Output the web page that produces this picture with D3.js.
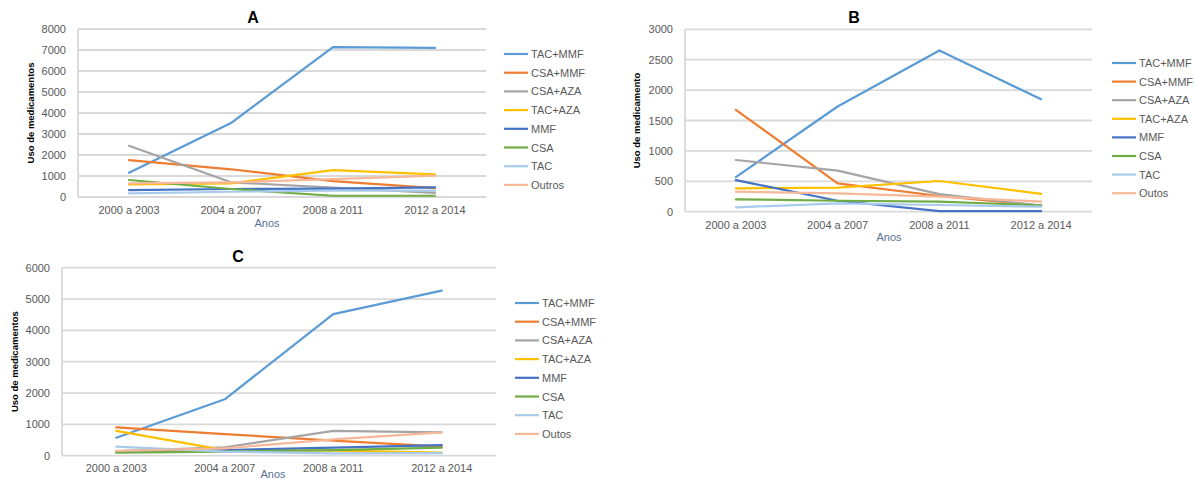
<!DOCTYPE html>
<html>
<head>
<meta charset="utf-8">
<script src="https://cdn.jsdelivr.net/npm/d3@7"></script>
<style>
  html, body { margin: 0; padding: 0; background: #fff; }
  svg { display: block; font-family: "Liberation Sans", Arial, sans-serif; }
</style>
</head>
<body>
<svg id="chart" width="1194" height="479"></svg>
<script>
// Periods on the x axis (shared by the three panels)
const categories = ["2000 a 2003", "2004 a 2007", "2008 a 2011", "2012 a 2014"];

// Series keys and colours, same order in every panel
const seriesKeys = ["TAC+MMF", "CSA+MMF", "CSA+AZA", "TAC+AZA", "MMF", "CSA", "TAC", "Outros"];
const seriesColors = ["#5B9BD5", "#ED7D31", "#A5A5A5", "#FFC000", "#4472C4", "#70AD47", "#A9CBEB", "#F6B899"];

// Legend labels as printed in each panel
const legendA = ["TAC+MMF", "CSA+MMF", "CSA+AZA", "TAC+AZA", "MMF", "CSA", "TAC", "Outros"];
const legendB = ["TAC+MMF", "CSA+MMF", "CSA+AZA", "TAC+AZA", "MMF", "CSA", "TAC", "Outos"];
const legendC = ["TAC+MMF", "CSA+MMF", "CSA+AZA", "TAC+AZA", "MMF", "CSA", "TAC", "Outos"];

// Panel A values, one row per series
const valuesA = [
  [1150, 3520, 7140, 7100],
  [1760, 1320, 760, 420],
  [2440, 700, 450, 200],
  [600, 650, 1280, 1080],
  [330, 380, 400, 460],
  [810, 380, 60, 60],
  [170, 250, 300, 300],
  [650, 700, 850, 1020]
];
// Panel B values
const valuesB = [
  [570, 1730, 2650, 1850],
  [1675, 467, 258, 100],
  [850, 675, 290, 100],
  [385, 395, 505, 293],
  [520, 180, 10, 10],
  [204, 180, 165, 105],
  [72, 138, 110, 82],
  [330, 300, 247, 165]
];
// Panel C values
const valuesC = [
  [575, 1800, 4520, 5270],
  [905, 690, 480, 290],
  [150, 270, 790, 745],
  [790, 180, 160, 95],
  [130, 180, 255, 340],
  [95, 130, 180, 255],
  [290, 130, 75, 80],
  [150, 235, 520, 745]
];

// Y tick labels
const ticksA = [0, 1000, 2000, 3000, 4000, 5000, 6000, 7000, 8000];
const ticksB = [0, 500, 1000, 1500, 2000, 2500, 3000];
const ticksC = [0, 1000, 2000, 3000, 4000, 5000, 6000];

const svg = d3.select("#chart");
const textColor = "#595959";

function drawPanel(p) {
  const g = svg.append("g");
  const x = d3.scaleBand().domain(categories).range([p.left, p.right]);
  const y = d3.scaleLinear().domain([0, d3.max(p.ticks)]).range([p.bottom, p.top]);

  // horizontal gridlines
  g.append("g").selectAll("line").data(p.ticks).join("line")
    .attr("x1", p.left).attr("x2", p.right)
    .attr("y1", d => y(d)).attr("y2", d => y(d))
    .attr("stroke", "#D9D9D9").attr("stroke-width", 1.8);

  // vertical axis line
  g.append("line")
    .attr("x1", p.left).attr("x2", p.left)
    .attr("y1", p.top).attr("y2", p.bottom)
    .attr("stroke", "#D9D9D9").attr("stroke-width", 1.8);

  // y tick labels
  const yAxis = d3.axisLeft(y).tickValues(p.ticks).tickSize(0).tickPadding(0).tickFormat(d3.format("d"));
  const ya = g.append("g").attr("transform", `translate(${p.left - 12},0)`).call(yAxis);
  ya.select(".domain").remove();
  ya.selectAll("text").attr("fill", textColor).attr("font-size", 11)
    .attr("font-family", "Liberation Sans, Arial, sans-serif");

  // x tick labels
  const xAxis = d3.axisBottom(x).tickSize(0).tickPadding(0);
  const xa = g.append("g").attr("transform", `translate(0,${p.xLabelY})`).call(xAxis);
  xa.select(".domain").remove();
  xa.selectAll("text").attr("fill", textColor).attr("font-size", 11)
    .attr("font-family", "Liberation Sans, Arial, sans-serif");

  // series lines
  const line = d3.line()
    .x((d, i) => x(categories[i]) + x.bandwidth() / 2)
    .y(d => y(d));
  g.append("g").selectAll("path").data(p.values).join("path")
    .attr("d", d => line(d))
    .attr("fill", "none")
    .attr("stroke", (d, i) => seriesColors[i])
    .attr("stroke-width", 2.2)
    .attr("stroke-linejoin", "round")
    .attr("stroke-linecap", "round");

  // panel title
  g.append("text").attr("x", p.titleX).attr("y", p.titleY)
    .attr("text-anchor", "middle").attr("font-size", 16).attr("font-weight", "bold")
    .attr("fill", "#000").text(p.title);

  // y axis title
  g.append("text")
    .attr("transform", `translate(${p.yTitleX},${(p.top + p.bottom) / 2}) rotate(-90)`)
    .attr("text-anchor", "middle").attr("font-size", 9.5).attr("font-weight", "bold")
    .attr("fill", "#000").text(p.yTitle);

  // x axis title
  g.append("text").attr("x", p.xTitleX).attr("y", p.xTitleY)
    .attr("text-anchor", "middle").attr("font-size", 11)
    .attr("fill", "#5A7394").text("Anos");

  // legend
  const lg = g.append("g").selectAll("g").data(p.legend).join("g")
    .attr("transform", (d, i) => `translate(${p.legendX},${p.legendY + i * p.legendStep})`);
  lg.append("line").attr("x1", 0).attr("x2", 24).attr("y1", 0).attr("y2", 0)
    .attr("stroke", (d, i) => seriesColors[i]).attr("stroke-width", 2.2);
  lg.append("text").attr("x", 27).attr("y", 4).attr("font-size", 11)
    .attr("fill", textColor).text(d => d);
}

drawPanel({
  title: "A", values: valuesA, ticks: ticksA, legend: legendA,
  left: 78, right: 486, top: 29, bottom: 197,
  xLabelY: 206, titleX: 253, titleY: 23,
  yTitle: "Uso de medicamentos", yTitleX: 34,
  xTitleX: 267, xTitleY: 227,
  legendX: 504, legendY: 54, legendStep: 18.7
});

drawPanel({
  title: "B", values: valuesB, ticks: ticksB, legend: legendB,
  left: 685, right: 1092, top: 29.3, bottom: 211.7,
  xLabelY: 221, titleX: 854, titleY: 23,
  yTitle: "Uso de medicamento", yTitleX: 640,
  xTitleX: 889, xTitleY: 241,
  legendX: 1112, legendY: 63, legendStep: 18.6
});

drawPanel({
  title: "C", values: valuesC, ticks: ticksC, legend: legendC,
  left: 62, right: 496, top: 267.7, bottom: 455.7,
  xLabelY: 464, titleX: 238, titleY: 262,
  yTitle: "Uso de medicamentos", yTitleX: 18,
  xTitleX: 273, xTitleY: 477.5,
  legendX: 515, legendY: 303, legendStep: 18.7
});
</script>
</body>
</html>
